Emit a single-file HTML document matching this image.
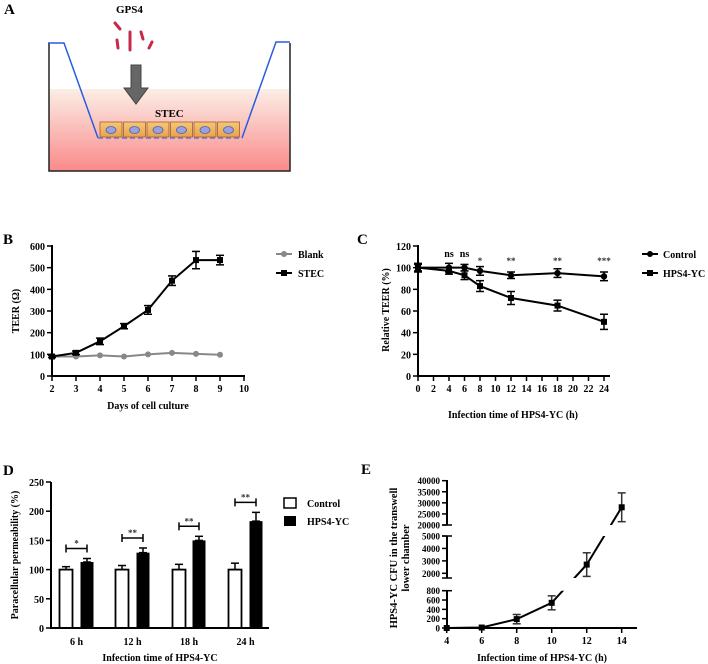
<!DOCTYPE html>
<html><head><meta charset="utf-8"><style>
html,body{margin:0;padding:0;background:#fff;}
svg{display:block;font-family:"Liberation Serif",serif;font-weight:bold;}
</style></head><body>
<svg id="fig" width="708" height="664" viewBox="0 0 708 664">
<defs>
<linearGradient id="liq" x1="0" y1="0" x2="0" y2="1"><stop offset="0" stop-color="#fbeee6"/><stop offset="1" stop-color="#fa8a8a"/></linearGradient>
<linearGradient id="cell" x1="0" y1="0" x2="0" y2="1"><stop offset="0" stop-color="#f5c878"/><stop offset="1" stop-color="#e9a24a"/></linearGradient>
</defs>
<g>
<text x="4" y="14" font-size="15">A</text>
<text x="116" y="13" font-size="11">GPS4</text>
<g stroke="#c8284a" stroke-width="3" stroke-linecap="round">
<line x1="115" y1="23" x2="120" y2="29"/><line x1="117" y1="40" x2="118" y2="48"/><line x1="130" y1="32" x2="130" y2="50"/><line x1="141" y1="32" x2="143" y2="39"/><line x1="152" y1="42" x2="149" y2="48"/>
</g>
<rect x="49" y="89" width="241" height="82" fill="url(#liq)"/>
<path d="M49 43 V171 H290 V43" fill="none" stroke="#222" stroke-width="1.5"/>
<path d="M48 43 H64 L98 138 M242 138 L276 42 H290" fill="none" stroke="#2a5ce0" stroke-width="1.5"/>
<line x1="98" y1="138" x2="242" y2="138" stroke="#8080d0" stroke-width="2" stroke-dasharray="5,3"/>
<path d="M131 65 H141 V88 H148 L136 104 L124 88 H131 Z" fill="#666" stroke="#444"/>
<text x="155" y="117" font-size="11">STEC</text>
<g id="cells"></g>
</g>
<g id="pB"></g>
<g id="pC"></g>
<g id="pD"></g>
<g id="pE"></g>
</svg>
<script>
// Panel B data
const bDays=[2,3,4,5,6,7,8,9];
const bBlank=[90,90,95,90,100,107,102,98];
const bStec=[90,107,160,230,305,440,535,535];
const bStecErr=[5,8,15,12,20,22,40,22];
const bYTicks=[0,100,200,300,400,500,600];
const bXTicks=[2,3,4,5,6,7,8,9,10];
// Panel C data
const cTimes=[0,4,6,8,12,18,24];
const cControl=[100,100,100,97,93,95,92];
const cControlErr=[3,4,3,4,3,4,4];
const cHps=[100,97,93,83,72,65,50];
const cHpsErr=[4,3,4,5,6,5,7];
const cSig=["","ns","ns","*","**","**","***"];
const cYTicks=[0,20,40,60,80,100,120];
const cXTicks=[0,2,4,6,8,10,12,14,16,18,20,22,24];
// Panel D data
const dCats=["6 h","12 h","18 h","24 h"];
const dControl=[100,100,100,100];
const dControlErr=[5,7,9,11];
const dHps=[113,129,150,183];
const dHpsErr=[6,8,7,15];
const dSig=["*","**","**","**"];
const dYTicks=[0,50,100,150,200,250];
// Panel E data
const eTimes=[4,6,8,10,12,14];
const eCfu=[0,10,190,540,2700,28000];
const eErr=[0,20,100,150,950,6500];
const eXTicks=[4,6,8,10,12,14];
const eTicksLow=[0,200,400,600,800];
const eTicksMid=[2000,3000,4000,5000];
const eTicksTop=[20000,25000,30000,35000,40000];

const NS="http://www.w3.org/2000/svg";
function mk(parent,tag,attrs,text){const e=document.createElementNS(NS,tag);for(const k in attrs)e.setAttribute(k,attrs[k]);if(text!==undefined)e.textContent=text;parent.appendChild(e);return e;}

// cells
(function(){const g=document.getElementById('cells');for(let i=0;i<6;i++){const x=100+i*23.5;
const r=mk(g,'rect',{x:x,y:122,width:22,height:15,fill:'url(#cell)',stroke:'#a0602a','stroke-width':0.8});


const n=mk(g,'ellipse',{cx:x+11,cy:130,rx:5,ry:3.5,fill:'#9aa0e0',stroke:'#5060b0','stroke-width':0.8});

}})();

function errbar(g,x,y1,y2,w,col){mk(g,'line',{x1:x,x2:x,y1:y1,y2:y2,stroke:col,'stroke-width':1.5});mk(g,'line',{x1:x-w,x2:x+w,y1:y1,y2:y1,stroke:col,'stroke-width':1.5});mk(g,'line',{x1:x-w,x2:x+w,y1:y2,y2:y2,stroke:col,'stroke-width':1.5});}

// ---- Panel B
(function(){const g=document.getElementById('pB');
const X=d=>52+(d-2)*24, Y=v=>376-v*(130/600);
mk(g,'text',{x:3,y:244,'font-size':15},'B');
mk(g,'line',{x1:52,y1:245,x2:52,y2:377,stroke:'#000','stroke-width':2});
mk(g,'line',{x1:51,y1:376,x2:245,y2:376,stroke:'#000','stroke-width':2});
bYTicks.forEach(v=>{mk(g,'line',{x1:47,x2:52,y1:Y(v),y2:Y(v),stroke:'#000','stroke-width':1.5});mk(g,'text',{x:45,y:Y(v)+4,'font-size':10,'text-anchor':'end'},v);});
bXTicks.forEach(d=>{mk(g,'line',{x1:X(d),x2:X(d),y1:376,y2:381,stroke:'#000','stroke-width':1.5});mk(g,'text',{x:X(d),y:392,'font-size':10,'text-anchor':'middle'},d);});
mk(g,'text',{x:148,y:409,'font-size':10,'text-anchor':'middle'},'Days of cell culture');
mk(g,'text',{x:0,y:0,'font-size':10,'text-anchor':'middle',transform:'translate(19,311) rotate(-90)'},'TEER (Ω)');
const bl=mk(g,'polyline',{points:bDays.map((d,i)=>X(d)+','+Y(bBlank[i])).join(' '),fill:'none',stroke:'#888','stroke-width':2});


bDays.forEach((d,i)=>{const c=mk(g,'circle',{cx:X(d),cy:Y(bBlank[i]),r:3,fill:'#888'});

});
const sl=mk(g,'polyline',{points:bDays.map((d,i)=>X(d)+','+Y(bStec[i])).join(' '),fill:'none',stroke:'#000','stroke-width':2});


bDays.forEach((d,i)=>{errbar(g,X(d),Y(bStec[i]+bStecErr[i]),Y(bStec[i]-bStecErr[i]),4,'#000');const r=mk(g,'rect',{x:X(d)-3,y:Y(bStec[i])-3,width:6,height:6,fill:'#000'});

});
mk(g,'line',{x1:276,x2:292,y1:254,y2:254,stroke:'#888','stroke-width':2});mk(g,'circle',{cx:284,cy:254,r:3,fill:'#888'});
mk(g,'text',{x:298,y:258,'font-size':10},'Blank');
mk(g,'line',{x1:276,x2:292,y1:273,y2:273,stroke:'#000','stroke-width':2});mk(g,'rect',{x:281,y:270,width:6,height:6});
mk(g,'text',{x:298,y:277,'font-size':10},'STEC');
})();

// ---- Panel C
(function(){const g=document.getElementById('pC');
const X=t=>418+t*(186/24), Y=v=>376-v*(130/120);
mk(g,'text',{x:357,y:244,'font-size':15},'C');
mk(g,'line',{x1:418,y1:245,x2:418,y2:377,stroke:'#000','stroke-width':2});
mk(g,'line',{x1:417,y1:376,x2:610,y2:376,stroke:'#000','stroke-width':2});
cYTicks.forEach(v=>{mk(g,'line',{x1:413,x2:418,y1:Y(v),y2:Y(v),stroke:'#000','stroke-width':1.5});mk(g,'text',{x:411,y:Y(v)+4,'font-size':10,'text-anchor':'end'},v);});
cXTicks.forEach(t=>{mk(g,'line',{x1:X(t),x2:X(t),y1:376,y2:381,stroke:'#000','stroke-width':1.5});mk(g,'text',{x:X(t),y:392,'font-size':10,'text-anchor':'middle'},t);});
mk(g,'text',{x:513,y:418,'font-size':10,'text-anchor':'middle'},'Infection time of  HPS4-YC (h)');
mk(g,'text',{x:0,y:0,'font-size':10,'text-anchor':'middle',transform:'translate(389,310) rotate(-90)'},'Relative TEER (%)');
const cl=mk(g,'polyline',{points:cTimes.map((t,i)=>X(t)+','+Y(cControl[i])).join(' '),fill:'none',stroke:'#000','stroke-width':2});


const hl=mk(g,'polyline',{points:cTimes.map((t,i)=>X(t)+','+Y(cHps[i])).join(' '),fill:'none',stroke:'#000','stroke-width':2});


cTimes.forEach((t,i)=>{errbar(g,X(t),Y(cControl[i]+cControlErr[i]),Y(cControl[i]-cControlErr[i]),4,'#000');
const c=mk(g,'circle',{cx:X(t),cy:Y(cControl[i]),r:3.2});


errbar(g,X(t),Y(cHps[i]+cHpsErr[i]),Y(cHps[i]-cHpsErr[i]),4,'#000');
const r=mk(g,'rect',{x:X(t)-3,y:Y(cHps[i])-3,width:6,height:6});


if(cSig[i]){const s=mk(g,'text',{x:X(t),y:cSig[i]==='ns'?257:264,'font-size':cSig[i]==='ns'?10:9,'text-anchor':'middle',fill:cSig[i]==='ns'?'#000':'#333'},cSig[i]);

}});
mk(g,'line',{x1:642,x2:658,y1:254,y2:254,stroke:'#000','stroke-width':2});mk(g,'circle',{cx:650,cy:254,r:3});
mk(g,'text',{x:663,y:258,'font-size':10},'Control');
mk(g,'line',{x1:642,x2:658,y1:273,y2:273,stroke:'#000','stroke-width':2});mk(g,'rect',{x:647,y:270,width:6,height:6});
mk(g,'text',{x:663,y:277,'font-size':10},'HPS4-YC');
})();

// ---- Panel D
(function(){const g=document.getElementById('pD');
const Y=v=>628-v*(146/250);const cx=[66,122,179,235],hx=[87,143,199,256],bw=13;
mk(g,'text',{x:3,y:475,'font-size':15},'D');
dCats.forEach((c,i)=>{
errbar(g,cx[i],Y(dControl[i]+dControlErr[i]),Y(dControl[i]),4,'#000');
const a=mk(g,'rect',{x:cx[i]-bw/2,y:Y(dControl[i]),width:bw,height:628-Y(dControl[i]),fill:'#fff',stroke:'#000','stroke-width':1.8});


errbar(g,hx[i],Y(dHps[i]+dHpsErr[i]),Y(dHps[i]),4,'#000');
const b=mk(g,'rect',{x:hx[i]-bw/2,y:Y(dHps[i]),width:bw,height:628-Y(dHps[i]),fill:'#000'});


const by=Y(dHps[i]+dHpsErr[i])-10;
mk(g,'line',{x1:cx[i],x2:hx[i],y1:by,y2:by,stroke:'#000','stroke-width':1.5});
mk(g,'line',{x1:cx[i],x2:cx[i],y1:by-4,y2:by+4,stroke:'#000','stroke-width':1.5});
mk(g,'line',{x1:hx[i],x2:hx[i],y1:by-4,y2:by+4,stroke:'#000','stroke-width':1.5});
const s=mk(g,'text',{x:(cx[i]+hx[i])/2,y:by-2,'font-size':9,'text-anchor':'middle',fill:'#333'},dSig[i]);


mk(g,'text',{x:(cx[i]+hx[i])/2,y:645,'font-size':10,'text-anchor':'middle'},c);});
mk(g,'line',{x1:51,y1:482,x2:51,y2:629,stroke:'#000','stroke-width':2});
mk(g,'line',{x1:50,y1:628,x2:269,y2:628,stroke:'#000','stroke-width':2});
dYTicks.forEach(v=>{mk(g,'line',{x1:46,x2:51,y1:Y(v),y2:Y(v),stroke:'#000','stroke-width':1.5});mk(g,'text',{x:44,y:Y(v)+4,'font-size':10,'text-anchor':'end'},v);});
mk(g,'text',{x:160,y:661,'font-size':10,'text-anchor':'middle'},'Infection time of  HPS4-YC');
mk(g,'text',{x:0,y:0,'font-size':10,'text-anchor':'middle',transform:'translate(18,555) rotate(-90)'},'Paracellular permeability (%)');
mk(g,'rect',{x:284,y:498,width:12,height:10,fill:'#fff',stroke:'#000','stroke-width':1.5});
mk(g,'text',{x:307,y:507,'font-size':10},'Control');
mk(g,'rect',{x:284,y:516,width:12,height:10,fill:'#000'});
mk(g,'text',{x:307,y:525,'font-size':10},'HPS4-YC');
})();

// ---- Panel E
(function(){const g=document.getElementById('pE');
const X=t=>446.7+(t-4)*17.5;
function Y(v){if(v<=1000)return 628-v*(37.3/800);if(v<=10000)return 573.3-(v-2000)*(37.3/3000);return 525-(v-20000)*(44.3/20000);}
mk(g,'text',{x:361,y:474,'font-size':15},'E');
mk(g,'line',{x1:447,y1:590,x2:447,y2:629,stroke:'#000','stroke-width':2});
mk(g,'line',{x1:447,y1:536,x2:447,y2:578,stroke:'#000','stroke-width':2});
mk(g,'line',{x1:447,y1:480,x2:447,y2:525,stroke:'#000','stroke-width':2});
[[590.7],[578],[536],[525]].forEach(a=>mk(g,'line',{x1:442,x2:452,y1:a[0],y2:a[0],stroke:'#000','stroke-width':1.5}));
mk(g,'line',{x1:446,y1:628,x2:637,y2:628,stroke:'#000','stroke-width':2});
eTicksLow.concat(eTicksMid,eTicksTop).forEach(v=>{mk(g,'line',{x1:442,x2:447,y1:Y(v),y2:Y(v),stroke:'#000','stroke-width':1.5});mk(g,'text',{x:440,y:Y(v)+3.5,'font-size':9,'text-anchor':'end'},v);});
eXTicks.forEach(t=>{mk(g,'line',{x1:X(t),x2:X(t),y1:628,y2:633,stroke:'#000','stroke-width':1.5});mk(g,'text',{x:X(t),y:644,'font-size':10,'text-anchor':'middle'},t);});
mk(g,'text',{x:542,y:661,'font-size':10,'text-anchor':'middle'},'Infection time of  HPS4-YC (h)');
mk(g,'text',{x:0,y:0,'font-size':10.5,'text-anchor':'middle',transform:'translate(397,558) rotate(-90)'},'HPS4-YC CFU in the transwell');
mk(g,'text',{x:0,y:0,'font-size':10.5,'text-anchor':'middle',transform:'translate(409,558) rotate(-90)'},'lower chamber');
const cp=mk(g,'clipPath',{id:'eclip'});
mk(cp,'rect',{x:440,y:590.7,width:200,height:45});mk(cp,'rect',{x:440,y:536,width:200,height:42});mk(cp,'rect',{x:440,y:470,width:200,height:55});
const ln=mk(g,'polyline',{points:eTimes.map((t,i)=>X(t)+','+Y(eCfu[i])).join(' '),fill:'none',stroke:'#000','stroke-width':2,'clip-path':'url(#eclip)'});


eTimes.forEach((t,i)=>{if(eErr[i]>0&&i>1)errbar(g,X(t),Y(eCfu[i]+eErr[i]),Y(Math.max(0,eCfu[i]-eErr[i])),4,'#333');
const r=mk(g,'rect',{x:X(t)-3,y:Y(eCfu[i])-3,width:6,height:6});

});
})();
</script>
</body></html>
